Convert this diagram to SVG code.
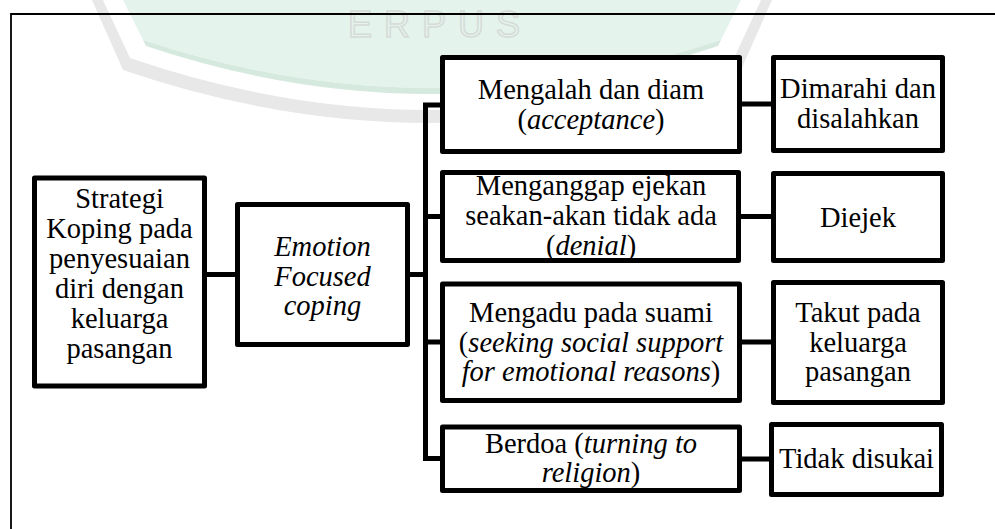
<svg xmlns="http://www.w3.org/2000/svg" width="995" height="529" viewBox="0 0 995 529">
<style>
.box{fill:#fff;stroke:#000;stroke-width:5;stroke-linejoin:round}
.con{fill:none;stroke:#000;stroke-width:5;stroke-linejoin:miter}
.frame{fill:none;stroke:#000;stroke-width:1.8}
.t{font-size:28.5px;fill:#000;text-anchor:middle}
.i{font-style:italic}
.wm{font-size:36px;fill:none;stroke:#d6dbd8;stroke-width:1.5;letter-spacing:12px;text-anchor:middle}
</style>
<rect width="995" height="529" fill="#fff"/>
<g id="watermark">
<path d="M92,0 L123,70 Q432,176 741,70 L772,0 L761,0 L734,58 Q432,162 130,58 L103,0 Z" fill="#e8e8e8"/>
<path d="M123,0 L143,40 Q432,136 721,40 L741,0 Z" fill="#e4f3ec"/>
<path d="M143,40 Q432,136 721,40 L718,46 Q432,142 146,46 Z" fill="#d6e9df"/>
<text class="wm" x="440" y="37" font-family="Liberation Sans, Arial, sans-serif">ERPUS</text>
</g>
<g id="frame">
<path class="frame" d="M11,529 V14 H995"/>
</g>
<g id="connectors">
<line class="con" x1="204" y1="274.5" x2="240" y2="274.5"/>
<line class="con" x1="407" y1="274.5" x2="425.5" y2="274.5"/>
<path class="con" d="M443,105 H425.5 V458.5 H443"/>
<line class="con" x1="425.5" y1="216.5" x2="443" y2="216.5"/>
<line class="con" x1="425.5" y1="342" x2="443" y2="342"/>
<line class="con" x1="739" y1="104" x2="774" y2="104"/>
<line class="con" x1="739" y1="216.5" x2="774" y2="216.5"/>
<line class="con" x1="739" y1="342" x2="774" y2="342"/>
<line class="con" x1="739" y1="459" x2="772" y2="459"/>
</g>
<g class="t" font-family="Liberation Serif, Times New Roman, Tinos, serif">
<g id="node-strategi">
<rect class="box" x="34.5" y="178" width="170" height="208"/>
<text x="119.5" y="208">Strategi</text>
<text x="119.5" y="238">Koping pada</text>
<text x="119.5" y="268">penyesuaian</text>
<text x="119.5" y="298">diri dengan</text>
<text x="119.5" y="327.5">keluarga</text>
<text x="119.5" y="357.5">pasangan</text>
</g>
<g id="node-emotion">
<rect class="box" x="237.5" y="204.5" width="170" height="140"/>
<text class="i" x="322.5" y="256">Emotion</text>
<text class="i" x="322.5" y="285.5">Focused</text>
<text class="i" x="322.5" y="315">coping</text>
</g>
<g id="node-mengalah">
<rect class="box" x="442.5" y="57.5" width="297" height="94"/>
<text x="591" y="99">Mengalah dan diam</text>
<text x="591" y="129">(<tspan class="i">acceptance</tspan>)</text>
</g>
<g id="node-menganggap">
<rect class="box" x="442.5" y="172.5" width="296" height="88"/>
<text x="591" y="195">Menganggap ejekan</text>
<text x="591" y="225">seakan-akan tidak ada</text>
<text x="591" y="255">(<tspan class="i">denial</tspan>)</text>
</g>
<g id="node-mengadu">
<rect class="box" x="442.5" y="284" width="297" height="116.5"/>
<text x="591" y="322">Mengadu pada suami</text>
<text x="591" y="351.5">(<tspan class="i">seeking social support</tspan></text>
<text x="591" y="381"><tspan class="i">for emotional reasons</tspan>)</text>
</g>
<g id="node-berdoa">
<rect class="box" x="442.5" y="427" width="297" height="63.5"/>
<text x="591" y="453">Berdoa (<tspan class="i">turning to</tspan></text>
<text x="591" y="482"><tspan class="i">religion</tspan>)</text>
</g>
<g id="node-dimarahi">
<rect class="box" x="773.5" y="57.5" width="169" height="93"/>
<text x="858" y="98">Dimarahi dan</text>
<text x="858" y="128">disalahkan</text>
</g>
<g id="node-diejek">
<rect class="box" x="773.5" y="173.5" width="169" height="87"/>
<text x="858" y="226.5">Diejek</text>
</g>
<g id="node-takut">
<rect class="box" x="773.5" y="282.5" width="169" height="120"/>
<text x="858" y="322">Takut pada</text>
<text x="858" y="351.5">keluarga</text>
<text x="858" y="381">pasangan</text>
</g>
<g id="node-tidak">
<rect class="box" x="771.5" y="424.5" width="170" height="70"/>
<text x="856.5" y="468">Tidak disukai</text>
</g>
</g>
</svg>
